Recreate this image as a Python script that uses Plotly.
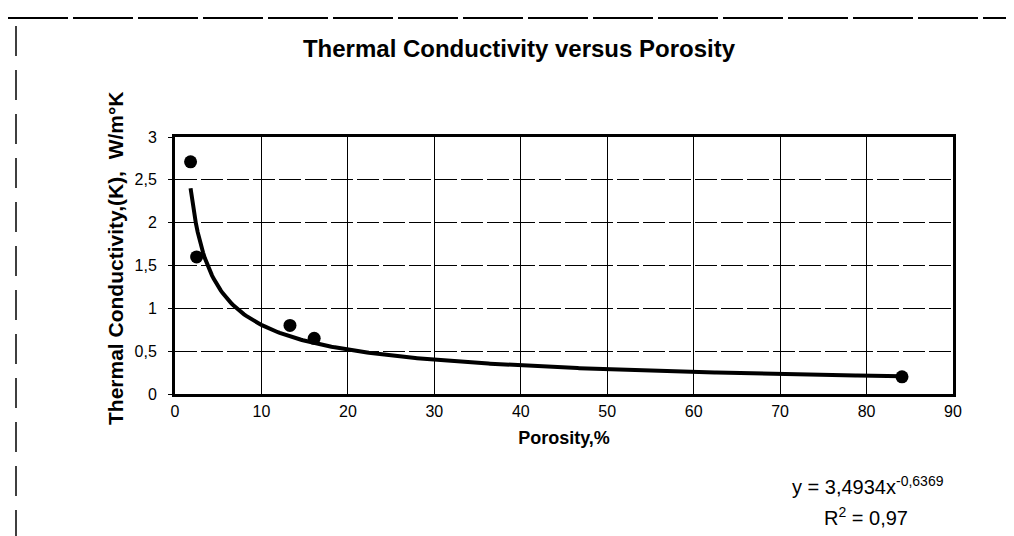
import numpy as np
import plotly.graph_objects as go

# Data
porosity = [1.8, 2.5, 13.3, 16.1, 84.1]
conductivity = [2.71, 1.60, 0.80, 0.65, 0.20]

# Power trendline shown on the chart: y = a * x^b
trend_a = 3.4934
trend_b = -0.6369
trend_x_start = 1.8
trend_x_end = 84.1

x_ticks = [0, 10, 20, 30, 40, 50, 60, 70, 80, 90]
x_ticklabels = ["0", "10", "20", "30", "40", "50", "60", "70", "80", "90"]
y_ticks = [0, 0.5, 1, 1.5, 2, 2.5, 3]
y_ticklabels = ["0", "0,5", "1", "1,5", "2", "2,5", "3"]

trend_x = np.linspace(trend_x_start, trend_x_end, 400)
trend_y = trend_a * trend_x ** trend_b

FONT = "Liberation Sans, Arial, sans-serif"

L, R, T, B = 167, 945, 129, 386
PW, PH = R - L, B - T


def px(xp):
    return (xp - L) / PW


def py(yp):
    return (B - yp) / PH


fig = go.Figure()
fig.add_trace(go.Scatter(
    x=trend_x, y=trend_y, mode="lines",
    line=dict(color="black", width=4),
    showlegend=False, hoverinfo="skip"))
fig.add_trace(go.Scatter(
    x=porosity, y=conductivity, mode="markers",
    marker=dict(color="black", size=13),
    showlegend=False))

fig.update_layout(
    width=1014, height=536,
    margin=dict(l=L, r=1014 - R, t=T, b=536 - B),
    paper_bgcolor="white", plot_bgcolor="white",
    font=dict(family=FONT, color="black", size=16),
    title=dict(text="<b>Thermal Conductivity versus Porosity</b>",
               x=511 / 1014, xanchor="center", y=1 - 41 / 536, yanchor="middle",
               font=dict(size=24, family=FONT, color="black")),
    xaxis=dict(range=[0, 90], tickvals=x_ticks, ticktext=x_ticklabels,
               showgrid=True, gridcolor="black", gridwidth=1,
               showline=True, linecolor="black", linewidth=3, mirror=True,
               ticks="", zeroline=False, ticklabelstandoff=1,
               tickfont=dict(size=16, family=FONT),
               title=dict(text="<b>Porosity,%</b>", standoff=13,
                          font=dict(size=18, family=FONT))),
    yaxis=dict(range=[0, 3], tickvals=y_ticks, ticktext=y_ticklabels,
               showgrid=True, gridcolor="black", gridwidth=1, griddash="22px,4px",
               showline=True, linecolor="black", linewidth=3, mirror=True,
               ticks="outside", ticklen=4, tickcolor="black", zeroline=False,
               ticklabelstandoff=8,
               tickfont=dict(size=16, family=FONT)),
)

# y-axis title placed as rotated text
fig.add_annotation(
    xref="paper", yref="paper", x=px(107), y=py(250),
    text="<b>Thermal Conductivity,(K),  W/m°K</b>", textangle=-90,
    showarrow=False, xanchor="center", yanchor="middle",
    font=dict(size=21, family=FONT))

fig.add_annotation(
    xref="paper", yref="paper", x=px(860), y=py(477),
    text="y = 3,4934x<sup>-0,6369</sup>", showarrow=False,
    xanchor="center", yanchor="middle", font=dict(size=20, family=FONT))
fig.add_annotation(
    xref="paper", yref="paper", x=px(858), y=py(508),
    text="R<sup>2</sup> = 0,97", showarrow=False,
    xanchor="center", yanchor="middle", font=dict(size=20, family=FONT))

# scanned page frame (dashed lines at top and left)
fig.add_shape(type="line", xref="paper", yref="paper",
              x0=px(0), x1=px(1014), y0=py(10), y1=py(10),
              line=dict(color="black", width=2, dash="60px,5px"))
fig.add_shape(type="line", xref="paper", yref="paper",
              x0=px(8), x1=px(8), y0=py(18), y1=py(536),
              line=dict(color="black", width=1.5, dash="30px,14px"))

fig.write_html("out.html")
